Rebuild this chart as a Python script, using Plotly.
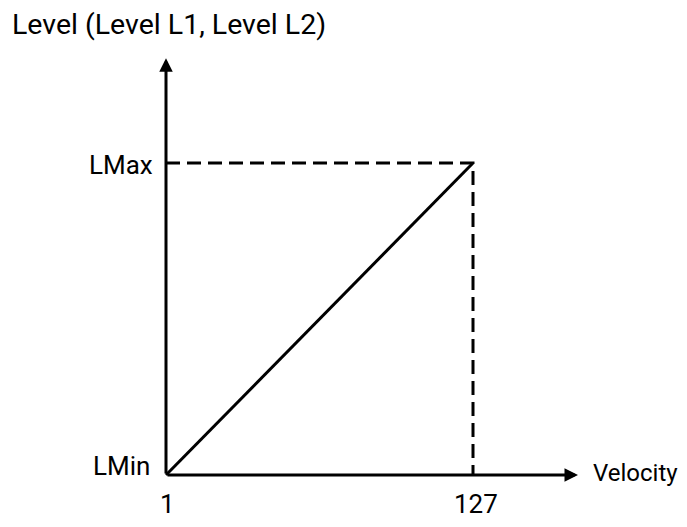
import plotly.graph_objects as go

# --- Data ---
velocity = [1, 127]          # velocity range (min, max)
level = [0, 1]               # normalised level (LMin, LMax)
level_labels = ["LMin", "LMax"]
velocity_labels = ["1", "127"]
title_text = "Level (Level L1, Level L2)"
x_axis_title = "Velocity"

FONT = "Roboto, Liberation Sans, sans-serif"
BLACK = "#000000"

# arrow tips of the two axes (in data units)
x_tip = 170.1
y_tip = 1.336

W, H = 671, 511  # page adds an 8px body margin around the figure

fig = go.Figure()

# --- Linear mapping velocity -> level ---
fig.add_trace(
    go.Scatter(
        x=velocity,
        y=level,
        mode="lines",
        line=dict(color=BLACK, width=3),
        hoverinfo="skip",
    )
)

# --- Dashed guide lines to LMax / 127 ---
fig.add_trace(
    go.Scatter(
        x=[velocity[0], velocity[1], velocity[1]],
        y=[level[1], level[1], level[0]],
        mode="lines",
        line=dict(color=BLACK, width=3, dash="14px,7px"),
        hoverinfo="skip",
    )
)

# --- Axes with arrows ---
for tip_x, tip_y in [(x_tip, level[0]), (velocity[0], y_tip)]:
    fig.add_annotation(
        x=tip_x,
        y=tip_y,
        ax=velocity[0],
        ay=level[0],
        xref="x",
        yref="y",
        axref="x",
        ayref="y",
        text="",
        showarrow=True,
        arrowhead=2,
        arrowsize=0.9,
        arrowwidth=3,
        arrowcolor=BLACK,
        standoff=0,
        startstandoff=0,
    )

# --- Level labels ---
for lv, lab, xs, ys in zip(level, level_labels, [-14, -11], [9, -2]):
    fig.add_annotation(
        x=velocity[0], y=lv, text=lab, showarrow=False,
        xanchor="right", yanchor="middle", xshift=xs, yshift=ys,
        font=dict(family=FONT, size=26, color=BLACK),
    )

# --- Velocity labels ---
for v, lab, xs in zip(velocity, velocity_labels, [1, 3]):
    fig.add_annotation(
        x=v, y=level[0], text=lab, showarrow=False,
        xanchor="center", yanchor="middle", xshift=xs, yshift=-29,
        font=dict(family=FONT, size=26, color=BLACK),
    )

fig.add_annotation(
    x=x_tip, y=level[0], text=x_axis_title, showarrow=False,
    xanchor="left", yanchor="middle", xshift=13, yshift=2,
    font=dict(family=FONT, size=24, color=BLACK),
)

# --- Layout ---
fig.update_layout(
    title=dict(
        text=title_text,
        x=4 / W,
        xanchor="left",
        y=1 - 16.5 / H,
        yanchor="middle",
        font=dict(family=FONT, size=28.5, color=BLACK),
    ),
    xaxis=dict(range=[-63.85, 211.55], visible=False, fixedrange=True),
    yaxis=dict(range=[-0.141, 1.4968], visible=False, fixedrange=True),
    showlegend=False,
    plot_bgcolor="white",
    paper_bgcolor="white",
    width=W,
    height=H,
    margin=dict(t=0, b=0, l=0, r=0),
)

fig.write_html("out.html")
